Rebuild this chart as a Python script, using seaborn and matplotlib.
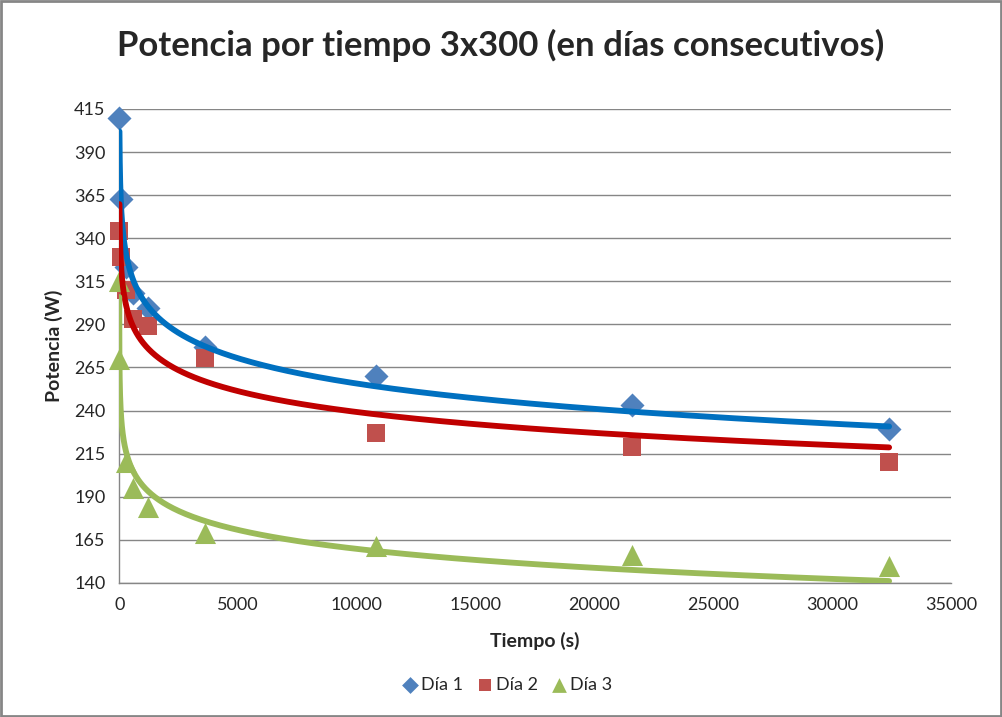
import matplotlib
matplotlib.use("Agg")
import matplotlib.pyplot as plt
import numpy as np
import seaborn as sns
from matplotlib.patches import Rectangle

sns.set_style("white")
plt.rcParams['font.family'] = ['Lato', 'DejaVu Sans']

# datos (los primeros tiempos, casi en 0, son estimados)
tiempo = [10, 60, 300, 600, 1200, 3600, 10800, 21600, 32400]
tiempo3 = [1, 10, 300, 600, 1200, 3600, 10800, 21600, 32400]
dia1 = [409.8, 362.8, 323.5, 308, 299.6, 277, 260, 243.3, 229.4]
dia2 = [344, 329.3, 310, 293.2, 289.3, 270.6, 227, 219, 210]
dia3 = [315, 270, 210.4, 195, 184.3, 169, 161.5, 156.4, 150]
etiquetas = ["Día 1", "Día 2", "Día 3"]
yticks = list(range(140, 416, 25))
xticks = list(range(0, 35001, 5000))

marcadores = ["D", "s", "^"]
tamanos = [150, 150, 230]
col_puntos = ["#4F81BD", "#C0504D", "#9BBB59"]
col_lineas = ["#0070C0", "#C00000", "#9BBB59"]
series = [(tiempo, dia1), (tiempo, dia2), (tiempo3, dia3)]

fig = plt.figure(figsize=(10.02, 7.17), dpi=100)
ax = fig.add_axes([0.119, 0.187, 0.830, 0.661])

for (tx, serie), lab, mk, s, c in zip(series, etiquetas, marcadores, tamanos, col_puntos):
    sns.scatterplot(x=tx, y=serie, marker=mk, s=s, color=c, edgecolor=c,
                    linewidth=0, label=lab, ax=ax, zorder=3, clip_on=False)

# lineas de tendencia logaritmicas (ajuste y = a*ln(x) + b)
for (tx, serie), c in zip(series, col_lineas):
    t = np.array(tx, dtype=float)
    a, b = np.polyfit(np.log(t), np.array(serie), 1)
    xx = np.geomspace(t.min(), t.max(), 400)
    ax.plot(xx, a * np.log(xx) + b, color=c, lw=4.2, zorder=4, solid_capstyle='round')

ax.set_xlim(0, 35000)
ax.set_ylim(140, 415)
ax.set_xticks(xticks)
ax.set_yticks(yticks)
ax.yaxis.grid(True, color='#868686', lw=1)
ax.set_axisbelow(True)
for side in ['top', 'right']:
    ax.spines[side].set_visible(False)
for side in ['left', 'bottom']:
    ax.spines[side].set_color('#868686')
    ax.spines[side].set_linewidth(1)
ax.tick_params(axis='both', direction='out', length=5, width=1, color='#868686',
               labelsize=13, pad=5)
ax.set_xlabel("Tiempo (s)", fontsize=14, fontweight='bold', labelpad=14)
ax.set_ylabel("Potencia (W)", fontsize=14, fontweight='bold', labelpad=8)

fig.suptitle("Potencia por tiempo 3x300 (en días consecutivos)", fontsize=25,
             fontweight='bold', x=0.5, y=0.937, va='center')

ax.get_legend().remove()
h, l = ax.get_legend_handles_labels()
fig.legend(h, l, loc='center', bbox_to_anchor=(0.504, 1 - 685 / 717), ncol=3,
           frameon=False, fontsize=13, handletextpad=-0.1, columnspacing=0.5,
           handlelength=1.4, markerscale=0.7)

fig.add_artist(Rectangle((0.001, 0.001), 0.998, 0.997, transform=fig.transFigure,
                         fill=False, edgecolor='#868686', lw=2))

fig.savefig("out.png", dpi=100)
